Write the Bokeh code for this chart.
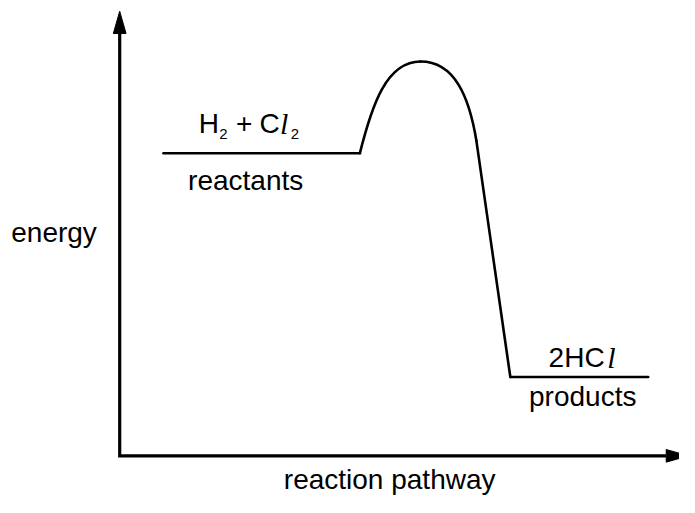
from bokeh.plotting import figure
from bokeh.models import Range1d
from bokeh.embed import file_html
from bokeh.resources import INLINE
from bokeh.core.properties import value

# ---- data (reaction pathway units, energy units) ----
axis_x_tip = 10.40
axis_y_tip = 10.43

reactant_x = [0.80, 4.39]
reactant_energy = 7.10
product_x = [7.14, 9.66]
product_energy = 1.85

# barrier drawn as two cubic Bezier pieces
bz_x0 = [4.39, 5.50]
bz_y0 = [7.10, 9.25]
bz_cx0 = [4.61, 6.125]
bz_cy0 = [8.23, 9.25]
bz_cx1 = [4.875, 6.39]
bz_cy1 = [9.25, 8.41]
bz_x1 = [5.50, 6.52]
bz_y1 = [9.25, 7.39]
descent_x = [6.52, 7.14]
descent_y = [7.39, 1.85]

reactant_formula = ["H", "2", "+", "C", "l", "2"]
product_formula = ["2HC", "l"]
reactant_name = "reactants"
product_name = "products"
y_title = "energy"
x_title = "reaction pathway"

# ---- layout ----
W, H = 679, 497
REF_W, REF_H = 695, 513    # reference picture mapped onto the canvas
OX, OY = 122, 470          # reference pixel of the origin
SX, SY = 56.0, 44.0        # reference pixels per unit
TEXT_SHIFT = 9             # renderer places the baseline a little low

def dx(px):
    return (px - OX) / SX

def dy(py):
    return (OY - py) / SY

p = figure(width=W, height=H, output_backend="svg", toolbar_location=None,
           x_range=Range1d(dx(0), dx(REF_W)), y_range=Range1d(dy(REF_H), dy(0)),
           min_border=0)
p.axis.visible = False
p.grid.visible = False
p.outline_line_color = None
p.background_fill_color = "white"
p.border_fill_color = "white"

INK = "#000000"

# axes
hl = 23 / SY
hw = 6.5 / SX
hlx = 23 / SX
hwy = 6.5 / SY
p.line([0, 0, axis_x_tip - hlx], [axis_y_tip - hl, 0, 0], line_color=INK,
       line_width=3.2, line_join="miter")
p.patch([-hw, 0, hw], [axis_y_tip - hl, axis_y_tip, axis_y_tip - hl],
        fill_color=INK, line_color=INK, line_width=1)
p.patch([axis_x_tip - hlx, axis_x_tip, axis_x_tip - hlx],
        [hwy, 0, -hwy], fill_color=INK, line_color=INK, line_width=1)

# energy profile
LW = 2.6
p.line(reactant_x, [reactant_energy] * 2, line_color=INK, line_width=LW, line_cap="round")
p.line(product_x, [product_energy] * 2, line_color=INK, line_width=LW, line_cap="round")
p.bezier(x0=bz_x0, y0=bz_y0, x1=bz_x1, y1=bz_y1, cx0=bz_cx0, cy0=bz_cy0,
         cx1=bz_cx1, cy1=bz_cy1, line_color=INK, line_width=LW, line_cap="round")
p.line(descent_x, descent_y, line_color=INK, line_width=LW, line_cap="round",
       line_join="round")

SANS = "Liberation Sans"
SERIF = "Liberation Serif"

def txt(s, px, py, size, font=SANS, style="normal"):
    p.text(x=[dx(px)], y=[dy(py - TEXT_SHIFT)], text=[s], text_font=value(font),
           text_font_size=f"{size}px", text_font_style=style, text_color=INK,
           text_align="left", text_baseline="alphabetic")

# H2 + Cl2
txt(reactant_formula[0], 203, 136, 28)
txt(reactant_formula[1], 224, 147, 15)
txt(reactant_formula[2], 241, 136, 28)
txt(reactant_formula[3], 265, 136, 28)
txt(reactant_formula[4], 286, 136, 30, SERIF, "italic")
txt(reactant_formula[5], 297, 147, 15)

txt(reactant_name, 192, 195, 28)

# 2HCl
txt(product_formula[0], 561, 378, 28)
txt(product_formula[1], 621, 378, 30, SERIF, "italic")
txt(product_name, 541, 418, 28)

txt(y_title, 11, 248, 28)
txt(x_title, 290, 503, 28)

open("out.html", "w").write(file_html(p, INLINE))
